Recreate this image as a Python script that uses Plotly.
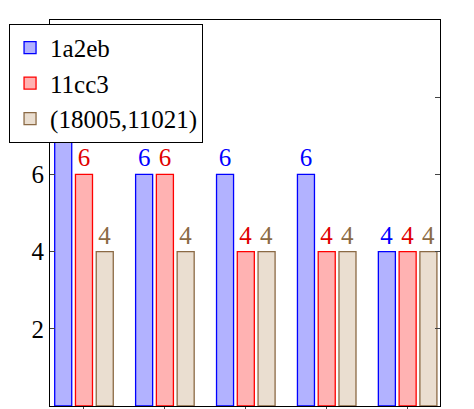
import plotly.graph_objects as go

groups = [0, 1, 2, 3, 4]
series_names = ["1a2eb", "11cc3", "(18005,11021)"]
vals_blue = [8, 6, 6, 6, 4]
vals_red = [6, 6, 4, 4, 4]
vals_brown = [4, 4, 4, 4, 4]

styles = [
    ("rgba(0,0,255,0.3)", "#0000ff", "#0000ff"),
    ("rgba(255,0,0,0.3)", "#ff0000", "#e00000"),
    ("rgba(196,160,120,0.35)", "#8b6a45", "#8b6a45"),
]

fig = go.Figure()
for name, vals, (fill, edge, txt) in zip(series_names, [vals_blue, vals_red, vals_brown], styles):
    fig.add_bar(
        x=groups, y=vals, name=name,
        marker=dict(color=fill, line=dict(color=edge, width=1.3)),
        text=[str(v) for v in vals], textposition="outside",
        textfont=dict(color=txt, size=25), cliponaxis=False,
    )

fig.update_layout(
    width=474, height=409,
    margin=dict(l=42, r=42, t=12, b=11, autoexpand=False),
    plot_bgcolor="white", paper_bgcolor="white",
    font=dict(family="Liberation Serif", size=25, color="black"),
    barmode="group", bargap=0.23, bargroupgap=0.18,
    showlegend=True,
    legend=dict(orientation="h", x=-0.105, y=0.99, xanchor="left", yanchor="top",
                bordercolor="black", borderwidth=1, bgcolor="white",
                font=dict(size=25), itemwidth=30, tracegroupgap=0),
)
fig.update_xaxes(range=[-0.42, 4.4], tickvals=groups, ticktext=["", "", "", "", ""],
                 ticks="outside", ticklen=5, showline=True, linecolor="black",
                 mirror=True, showgrid=False, zeroline=False)
fig.update_yaxes(range=[0, 10], tickvals=[0, 2, 4, 6, 8, 10], ticks="inside",
                 ticklen=5, showline=True, linecolor="black", mirror="ticks",
                 showgrid=False, zeroline=False)

fig.write_html("out.html")
